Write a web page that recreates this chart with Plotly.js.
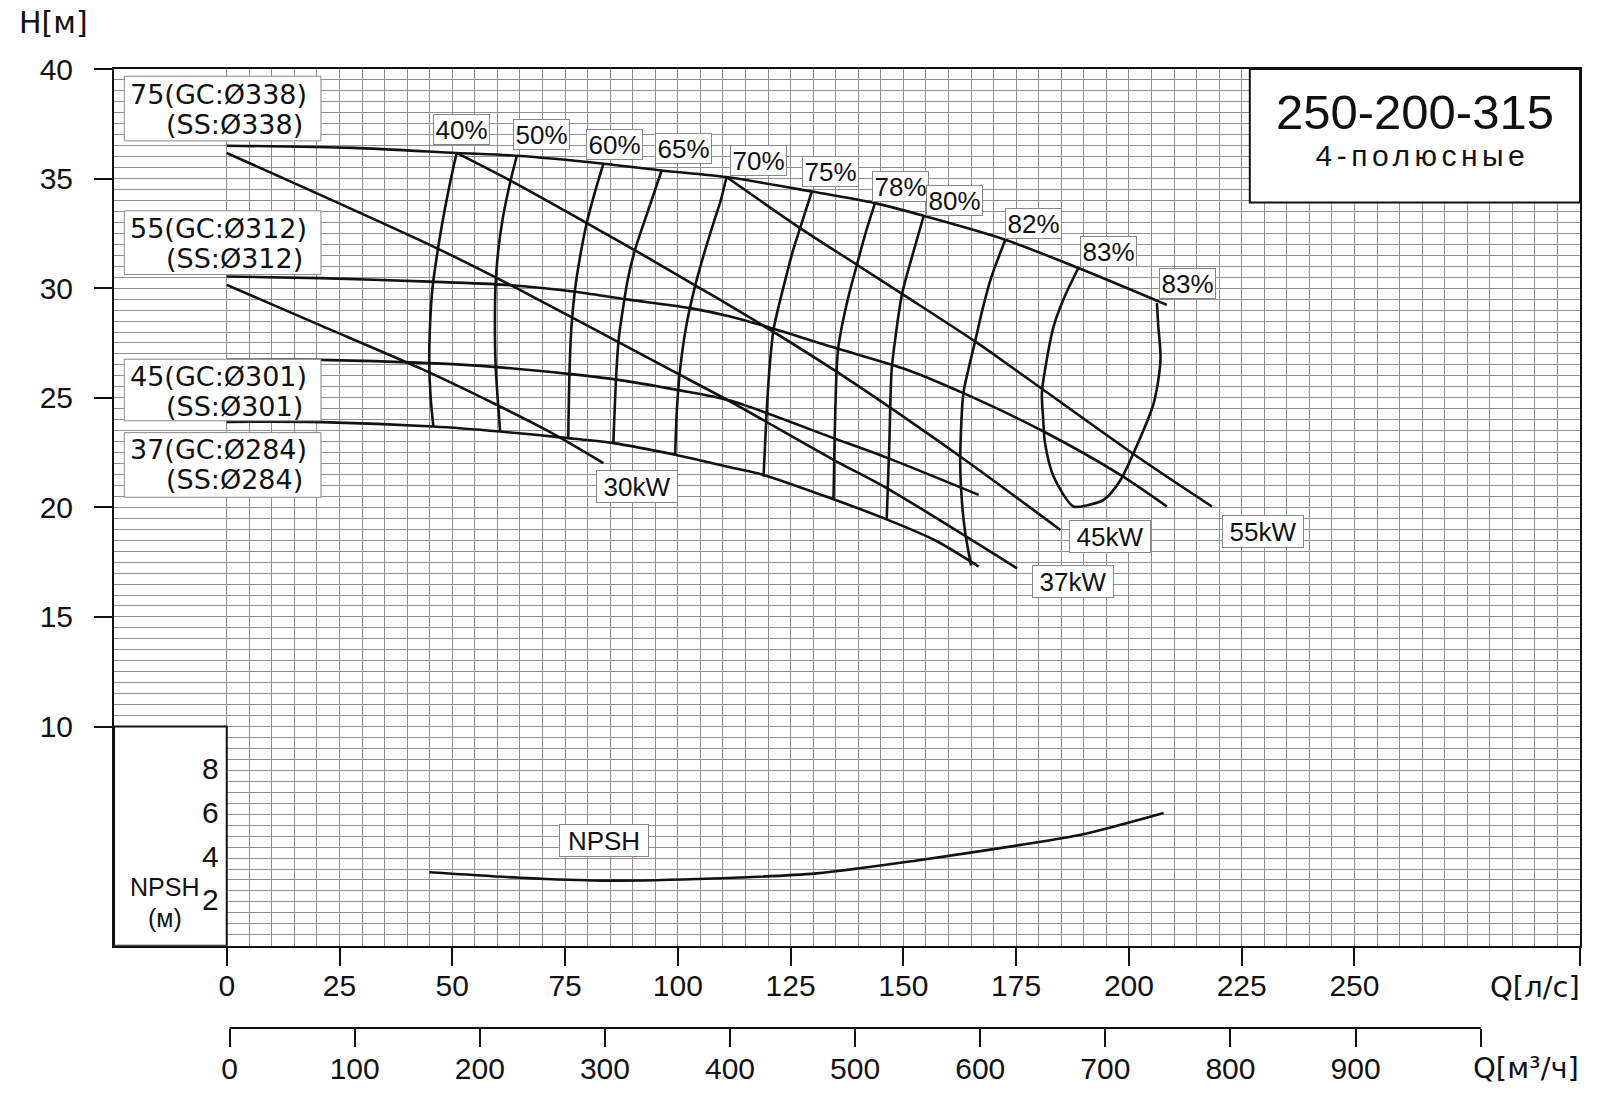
<!DOCTYPE html>
<html><head><meta charset="utf-8">
<script src="https://cdn.plot.ly/plotly-3.0.1.min.js"></script>
<style>
html,body{margin:0;padding:0;background:#fff;}
#chart{width:1600px;height:1098px;}
</style>
</head><body><div id="chart"></div>
<script>
// ---------- DATA (Q in l/s, H in m) ----------
// H-Q curves per impeller
const hq75Q = [0,28,50.95,64.3,83.5,96.4,110.8,129.7,143.7,154.5,172.6,188.8,208.4];
const hq75H = [36.5,36.4,36.17,36.04,35.68,35.37,35.07,34.41,33.88,33.3,32.21,30.92,29.24];
const hq55Q = [0,20.6,45,62,76.8,88.3,102.7,111.6,121.2,134.5,150.8,163.3,181.1,198.1,208.4];
const hq55H = [30.53,30.46,30.3,30.15,29.85,29.5,29.09,28.71,28.15,27.3,26.28,25.21,23.46,21.48,20.04];
const hq45Q = [0,20.6,45,59.8,75.7,85.7,99.8,111.6,134.5,146.3,166.7];
const hq45H = [26.73,26.73,26.58,26.4,26.09,25.85,25.36,24.87,23.16,22.27,20.57];
const hq37Q = [0,21,45.8,60.6,75.7,85.7,99.4,111.6,119,134.5,146.3,157,166.7];
const hq37H = [23.9,23.89,23.69,23.46,23.16,22.93,22.4,21.83,21.48,20.37,19.45,18.5,17.3];

// power lines
const p30Q = [0,20,42.8,59.8,72,83.5];
const p30H = [30.15,28.37,26.35,24.68,23.4,22.02];
const p37Q = [0,46.5,63.5,98.3,111.6,134.5,146.3,175.2];
const p37H = [36.17,31.83,30.08,26.28,24.83,22.17,20.88,17.22];
const p45Q = [50.95,63.2,79.8,90.9,104.2,109.4,134.5,162.6,184.8];
const p45H = [36.17,34.87,32.97,31.68,30.08,29.47,26.28,22.32,18.97];
const p55Q = [110.8,127.1,139.7,149.7,165.9,174.8,201.8,218.4];
const p55H = [35.07,32.74,31.07,29.74,27.57,26.28,22.32,20.04];

// efficiency iso-lines
const e40Q = [50.95,49.5,47.8,46.6,45.6,45.0,44.9,45.2,45.8];
const e40H = [36.17,34.8,33.0,31.5,30.0,28.0,26.5,25.0,23.69];
const e50Q = [64.3,62.8,61.2,60.2,59.6,59.45,59.6,60.6];
const e50H = [36.04,34.8,33.2,31.75,30.2,28.5,26.5,23.46];
const e60Q = [83.5,81.5,79.8,78.3,77.2,76.4,76.0,75.7];
const e60H = [35.68,34.3,32.97,31.4,29.93,28.2,26.3,23.16];
const e65Q = [96.4,93.5,90.5,88.9,87.9,86.9,86.4,86.0,85.7];
const e65H = [35.37,33.6,31.75,30.4,29.16,27.7,26.28,24.5,22.93];
const e70Q = [110.8,109.5,107.9,105.7,103.8,101.8,100.5,99.8,99.4];
const e70H = [35.07,34.0,32.97,31.5,30.08,28.2,26.28,24.5,22.4];
const e75Q = [129.7,127.1,125.5,124.2,122.5,121.2,120.3,119.6,119.0];
const e75H = [34.41,32.74,31.7,30.69,29.3,28.1,26.28,24.0,21.41];
const e78Q = [143.7,141.6,139.7,137.8,136.4,135.6,135.2,134.8,134.5];
const e78H = [33.88,32.5,31.07,29.6,28.3,27.34,26.28,23.5,20.34];
const e80Q = [154.5,152.0,149.7,148.4,147.4,146.9,146.3];
const e80H = [33.3,31.5,29.74,28.0,26.28,23.0,19.43];
const e82Q = [172.6,169.5,167.5,165.9,164.4,163.3,162.6,162.9,163.6,165.0];
const e82H = [32.21,30.5,29.0,27.57,26.28,25.21,22.17,20.5,19.0,17.35];
const e83Q = [188.8,185.5,183.3,181.4,180.7,181.0,181.4,183.3,187.7,190.8,194.4,198.0,201.0,205.5,207.0,206.5,206.2];
const e83H = [30.92,29.5,28.25,26.28,25.21,24.0,22.93,21.41,20.04,20.1,20.34,21.2,22.47,24.76,26.73,28.3,29.32];

// NPSH curve (m)
const npshQ = [44.9,65,83,108,130.7,153.4,176,189.6,207.7];
const npshH = [3.35,3.1,2.97,3.07,3.3,3.9,4.6,5.07,6.05];

// tick labels
const qTicks = [0,25,50,75,100,125,150,175,200,225,250,300];
const qTickText = ['0','25','50','75','100','125','150','175','200','225','250',''];
const m3Ticks = [0,100,200,300,400,500,600,700,800,900,1000];
const m3TickText = ['0','100','200','300','400','500','600','700','800','900',''];
const hTicks = [10,15,20,25,30,35,40];
const npshTicks = [2,4,6,8];

const effLabels = ['40%','50%','60%','65%','70%','75%','78%','80%','82%','83%','83%'];
const powerLabels = ['30kW','45kW','37kW','55kW'];
const diamLine1 = ['75(GC:Ø338)','55(GC:Ø312)','45(GC:Ø301)','37(GC:Ø284)'];
const diamLine2 = ['(SS:Ø338)','(SS:Ø312)','(SS:Ø301)','(SS:Ø284)'];

// ---------- STYLE / LAYOUT ----------
const FONT = 'Liberation Sans, Arial, sans-serif';
const WFONT = 'DejaVu Sans, Verdana, sans-serif';
const LW = 2.6;
const GRID = '#8f8f8f';
const INK = '#111';

function line(q, h) {
  return {x: q, y: h, mode: 'lines', type: 'scatter', xaxis: 'x', yaxis: 'y',
    line: {color: INK, width: LW, shape: 'spline', smoothing: 0.8},
    hoverinfo: 'skip', showlegend: false};
}

const traces = [
  line(hq75Q, hq75H), line(hq55Q, hq55H), line(hq45Q, hq45H), line(hq37Q, hq37H),
  line(p30Q, p30H), line(p37Q, p37H), line(p45Q, p45H), line(p55Q, p55H),
  line(e40Q, e40H), line(e50Q, e50H), line(e60Q, e60H), line(e65Q, e65H), line(e70Q, e70H),
  line(e75Q, e75H), line(e78Q, e78H), line(e80Q, e80H), line(e82Q, e82H), line(e83Q, e83H),
  line(npshQ, npshH)
];
// empty traces that bind the overlay axes
traces.push({x: [], y: [], xaxis: 'x3', yaxis: 'y', type: 'scatter', mode: 'lines', showlegend: false});
traces.push({x: [], y: [], xaxis: 'x', yaxis: 'y2', type: 'scatter', mode: 'lines', showlegend: false});
traces.push({x: [], y: [], xaxis: 'x2', yaxis: 'y', type: 'scatter', mode: 'lines', showlegend: false});

const gridQ = []; for (let v = 0; v <= 300; v += 5) gridQ.push(v);
const gridH = []; for (let i = 0; i <= 80; i++) gridH.push(i / 2);

// label positions (layout, in chart coordinates)
const effPos = [[52.05,37.25],[69.79,37.02],[86.04,36.55],[101.36,36.36],[117.9,35.81],[133.84,35.34],
  [149.38,34.65],[161.41,34.0],[178.88,32.94],[195.42,31.68],[212.91,30.2]];
const powPos = [[90.94,20.93],[195.8,18.66],[187.52,16.63],[229.65,18.89]];
const diamBox = [[39.67,36.72],[33.53,30.62],[26.76,23.95],[23.41,20.46]]; // top, bottom (H)
const diamText = [[38.82,37.45],[32.73,31.36],[25.98,24.61],[22.62,21.25]];

const annotations = [];
effLabels.forEach((t, i) => annotations.push({
  x: effPos[i][0], y: effPos[i][1], xref: 'x', yref: 'y', text: t, showarrow: false,
  xanchor: 'center', yanchor: 'middle',
  font: {family: FONT, size: 26, color: INK}, bgcolor: '#fff', bordercolor: '#888',
  borderwidth: 1, borderpad: 1, width: 53, height: 27}));
powerLabels.forEach((t, i) => annotations.push({
  x: powPos[i][0], y: powPos[i][1], xref: 'x', yref: 'y', text: t, showarrow: false,
  xanchor: 'center', yanchor: 'middle',
  font: {family: FONT, size: 26, color: INK}, bgcolor: '#fff', bordercolor: '#888',
  borderwidth: 1, borderpad: 1, width: 78, height: 29}));
diamLine1.forEach((t, i) => {
  annotations.push({x: 18.22, y: diamText[i][0], xref: 'x', yref: 'y', text: t, showarrow: false,
    xanchor: 'right', yanchor: 'middle', font: {family: WFONT, size: 27, color: INK}});
  annotations.push({x: 17.34, y: diamText[i][1], xref: 'x', yref: 'y', text: diamLine2[i], showarrow: false,
    xanchor: 'right', yanchor: 'middle', font: {family: WFONT, size: 27, color: INK}});
});
annotations.push({x: 83.62, y: 4.82, xref: 'x', yref: 'y', text: 'NPSH', showarrow: false,
  xanchor: 'center', yanchor: 'middle',
  font: {family: FONT, size: 26, color: INK}, bgcolor: '#fff', bordercolor: '#888',
  borderwidth: 1, borderpad: 1, width: 86, height: 29});
// NPSH scale (tick labels placed at their own values)
npshTicks.forEach(v => annotations.push({x: -1.2, y: v, xref: 'x', yref: 'y', text: String(v),
  showarrow: false, xanchor: 'right', yanchor: 'middle', yshift: 2,
  font: {family: FONT, size: 30, color: INK}}));
annotations.push({x: -13.7, y: 2.69, xref: 'x', yref: 'y', text: 'NPSH', showarrow: false,
  xanchor: 'center', yanchor: 'middle', font: {family: FONT, size: 25, color: INK}});
annotations.push({x: -13.7, y: 1.28, xref: 'x', yref: 'y', text: '(м)', showarrow: false,
  xanchor: 'center', yanchor: 'middle', font: {family: FONT, size: 25, color: INK}});
// axis names and title
const P = {xanchor: 'center', yanchor: 'middle', xref: 'paper', yref: 'paper', showarrow: false};
annotations.push(Object.assign({x: -0.0416, y: 1.049, text: 'H[м]', font: {family: WFONT, size: 30, color: INK}}, P));
annotations.push(Object.assign({x: 0.9693, y: 0.0431, text: 'Q[л/с]', font: {family: WFONT, size: 29, color: INK}}, P));
annotations.push(Object.assign({x: 0.9632, y: -0.0417, text: 'Q[м³/ч]', font: {family: WFONT, size: 29, color: INK}}, P));
annotations.push(Object.assign({x: 0.8873, y: 0.9555, text: '250-200-315', font: {family: FONT, size: 49, color: INK}}, P));
const subIdx = annotations.length;
annotations.push(Object.assign({x: 0.8929, y: 0.9103, text: '4-полюсные', font: {family: FONT, size: 30, color: INK}}, P));

const st = document.createElement('style');
st.textContent = '.annotation[data-index="' + subIdx + '"] text{letter-spacing:4.5px;}';
document.head.appendChild(st);

const shapes = [
  // NPSH panel
  {type: 'rect', xref: 'x', yref: 'y', x0: -25, x1: 0, y0: 0, y1: 10, layer: 'above',
    fillcolor: '#fff', line: {color: INK, width: 2}},
  // title box
  {type: 'rect', xref: 'x', yref: 'y', x0: 226.8, x1: 300, y0: 33.91, y1: 40, layer: 'above',
    fillcolor: '#fff', line: {color: INK, width: 2}},
  // m3/h axis line
  {type: 'line', xref: 'x2', yref: 'paper', x0: 0, x1: 1000, y0: 0, y1: 0,
    line: {color: INK, width: 2}}
];
diamBox.forEach(b => shapes.push({type: 'rect', xref: 'x', yref: 'y', x0: -22.72, x1: 20.88,
  y0: b[1], y1: b[0], layer: 'above', fillcolor: '#fff', line: {color: '#888', width: 1}}));

const tickFont = {family: FONT, size: 30, color: INK};
const layout = {
  width: 1600, height: 1098,
  margin: {l: 114, r: 20, t: 69, b: 70, autoexpand: false},
  paper_bgcolor: '#fff', plot_bgcolor: 'rgba(0,0,0,0)',
  showlegend: false,
  // grid + frame axes
  xaxis: {
    range: [-25, 300], domain: [0, 1], anchor: 'y',
    tickmode: 'array', tickvals: gridQ, showticklabels: false, ticks: '',
    showline: true, linewidth: 2, linecolor: INK, mirror: true,
    showgrid: true, gridcolor: GRID, gridwidth: 1, zeroline: false
  },
  yaxis: {
    range: [0, 40], domain: [0.0858, 1], anchor: 'x',
    tickmode: 'array', tickvals: gridH, showticklabels: false, ticks: '',
    showline: true, linewidth: 2, linecolor: INK, mirror: true,
    showgrid: true, gridcolor: GRID, gridwidth: 1, zeroline: false
  },
  // labelled scales
  xaxis3: {
    overlaying: 'x', anchor: 'y', side: 'bottom', range: [-25, 300],
    tickmode: 'array', tickvals: qTicks, ticktext: qTickText,
    ticks: 'outside', ticklen: 19, tickwidth: 2, tickcolor: INK,
    showline: false, showgrid: false, zeroline: false,
    tickfont: tickFont, ticklabelstandoff: -6
  },
  yaxis2: {
    overlaying: 'y', anchor: 'x', side: 'left', range: [0, 40],
    tickmode: 'array', tickvals: hTicks,
    ticks: 'outside', ticklen: 19, tickwidth: 2, tickcolor: INK,
    showline: false, showgrid: false, zeroline: false,
    tickfont: tickFont, ticklabelstandoff: 15
  },
  xaxis2: {
    overlaying: 'x', anchor: 'free', position: 0, side: 'bottom',
    range: [-92.4, 1079.4],
    tickmode: 'array', tickvals: m3Ticks, ticktext: m3TickText,
    ticks: 'outside', ticklen: 18, tickwidth: 2, tickcolor: INK,
    showline: false, showgrid: false, zeroline: false,
    tickfont: tickFont, ticklabelstandoff: -4
  },
  shapes: shapes,
  annotations: annotations
};

Plotly.newPlot('chart', traces, layout, {displayModeBar: false, responsive: false});
</script></body></html>
